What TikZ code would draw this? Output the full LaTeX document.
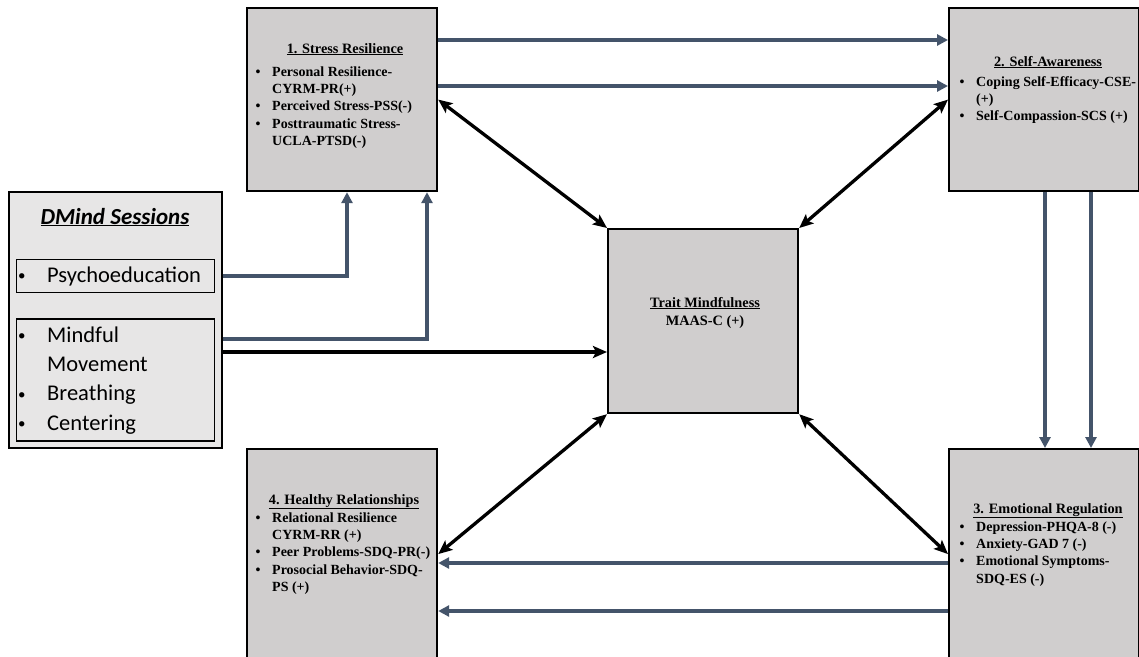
\documentclass[tikz,border=0pt]{standalone}
\usepackage{fontspec}
\setmainfont{Liberation Serif}
\newfontfamily\calibri{Carlito}
\usetikzlibrary{arrows.meta,calc}

\definecolor{boxgray}{HTML}{D0CECE}
\definecolor{panelgray}{HTML}{E7E6E6}
\definecolor{slate}{HTML}{44546A}

% bullet item and continuation line for the outcome lists
\newcommand\itm[1]{\makebox[16.5pt][l]{•}#1}
\newcommand\cont[1]{\hspace*{16.5pt}#1}
% smaller bullet for the session lists
\newcommand\sitm[1]{\makebox[29pt][l]{\raisebox{1.5pt}{\fontsize{15}{15}\selectfont•}}#1}
\newcommand\scont[1]{\hspace*{29pt}#1}

\begin{document}
\begin{tikzpicture}[x=1pt,y=-1pt,
  construct/.style={draw=black, line width=2.2pt, fill=boxgray, inner sep=0pt,
    anchor=north west, minimum width=190pt},
  panel/.style={draw=black, line width=1.7pt, fill=panelgray, inner sep=0pt,
    anchor=north west},
  heading/.style={font=\fontsize{14.3}{17.3}\selectfont\bfseries, inner sep=0pt, anchor=base},
  outcomes/.style={font=\fontsize{14}{17.3}\selectfont\bfseries, inner sep=0pt,
    anchor=north west, align=left},
  session/.style={font=\calibri\fontsize{22.5}{29.3}\selectfont, inner sep=0pt,
    anchor=north west, align=left},
  path link/.style={draw=slate, line width=3.4pt, -{Triangle[length=11pt,width=11pt]}},
  mutual/.style={draw=black, line width=3.3pt,
    {Stealth[length=14pt,width=12pt,inset=3pt]}-{Stealth[length=14pt,width=12pt,inset=3pt]}},
  direct/.style={draw=black, line width=3.3pt, -{Stealth[length=14pt,width=12pt,inset=3pt]}}]

\useasboundingbox (0,0) rectangle (1139,656);
\fill[white] (0,0) rectangle (1139,656);
\clip (0,0) rectangle (1139,656);

% ---- outcome constructs ----
\node[construct, minimum height=183pt] (stress) at (246,7) {};
\node[construct, minimum height=183pt] (aware) at (948,7) {};
\node[construct, minimum height=184pt] (trait) at (607,228) {};
\node[construct, minimum height=210pt] (relate) at (246,448) {};
\node[construct, minimum height=210pt] (emotion) at (948,448) {};

\node[heading] (stressT) at (345,53) {\underline{1. Stress Resilience}};
\node[outcomes] (stressL) at (255.5,63.9) {\strut\itm{Personal Resilience-}\\
  \cont{CYRM-PR(+)}\\
  \itm{Perceived Stress-PSS(-)}\\
  \itm{Posttraumatic Stress-}\\
  \cont{UCLA-PTSD(-)}};

\node[heading] (awareT) at (1048,66) {\underline{2. Self-Awareness}};
\node[outcomes] (awareL) at (959.5,73.9) {\strut\itm{Coping Self-Efficacy-CSE-}\\
  \cont{(+)}\\
  \itm{Self-Compassion-SCS (+)}};

\node[heading] (traitT) at (705,307) {\underline{Trait Mindfulness}};
\node[heading] (traitM) at (705,325) {MAAS-C (+)};

\node[heading] (emotionT) at (1048,513) {\underline{3. Emotional Regulation}};
\node[outcomes] (emotionL) at (959.5,518.9) {\strut\itm{Depression-PHQA-8 (-)}\\
  \itm{Anxiety-GAD 7 (-)}\\
  \itm{Emotional Symptoms-}\\
  \cont{SDQ-ES (-)}};

\node[heading] (relateT) at (344,504) {\underline{4. Healthy Relationships}};
\node[outcomes] (relateL) at (255.5,509.9) {\strut\itm{Relational Resilience}\\
  \cont{CYRM-RR (+)}\\
  \itm{Peer Problems-SDQ-PR(-)}\\
  \itm{Prosocial Behavior-SDQ-}\\
  \cont{PS (+)}};

% ---- intervention sessions ----
\node[panel, minimum width=213pt, minimum height=256pt] (dmind) at (8,191) {};
\node[font=\calibri\fontsize{23}{29.3}\selectfont\bfseries\itshape, inner sep=0pt, anchor=base]
  (dmindT) at (115,224) {\underline{DMind Sessions}};
\node[panel, minimum width=198pt, minimum height=33pt] (psy) at (15.5,258.5) {};
\node[session] (psyL) at (18,261.5) {\strut\sitm{Psychoeducation}};
\node[panel, minimum width=198pt, minimum height=122pt] (move) at (15.5,318) {};
\node[session] (moveL) at (18,321.5) {\strut\sitm{Mindful}\\
  \scont{Movement}\\
  \sitm{Breathing}\\
  \sitm{Centering}};

% ---- connector anchor points ----
\path (stress.north east) ++(0,33) coordinate (s1) ++(0,46) coordinate (s2);
\path (aware.south west) ++(97,0) coordinate (a1) ++(46,0) coordinate (a2);
\path (emotion.north west) ++(0,115) coordinate (e1) ++(0,48) coordinate (e2);
\path (stress.south west) ++(101,0) coordinate (b1) ++(80,0) coordinate (b2);
\path (move.north west) ++(0,21) coordinate (m1) ++(0,13) coordinate (m2);

% ---- pathways between constructs ----
\draw[path link] (s1) -- (s1 -| aware.west);
\draw[path link] (s2) -- (s2 -| aware.west);
\draw[path link] (a1) -- (a1 |- emotion.north);
\draw[path link] (a2) -- (a2 |- emotion.north);
\draw[path link] (e1) -- (e1 -| relate.east);
\draw[path link] (e2) -- (e2 -| relate.east);

\draw[mutual] (stress.east) -- (trait.north west);
\draw[mutual] (aware.west) -- (trait.north east);
\draw[mutual] (relate.east) -- (trait.south west);
\draw[mutual] (emotion.west) -- (trait.south east);

% ---- session effects ----
\draw[path link] (psy.east -| dmind.east) -| (b1);
\draw[path link] (m1 -| dmind.east) -| (b2);
\draw[direct] (m2 -| dmind.east) -- (m2 -| trait.west);
\end{tikzpicture}
\end{document}
